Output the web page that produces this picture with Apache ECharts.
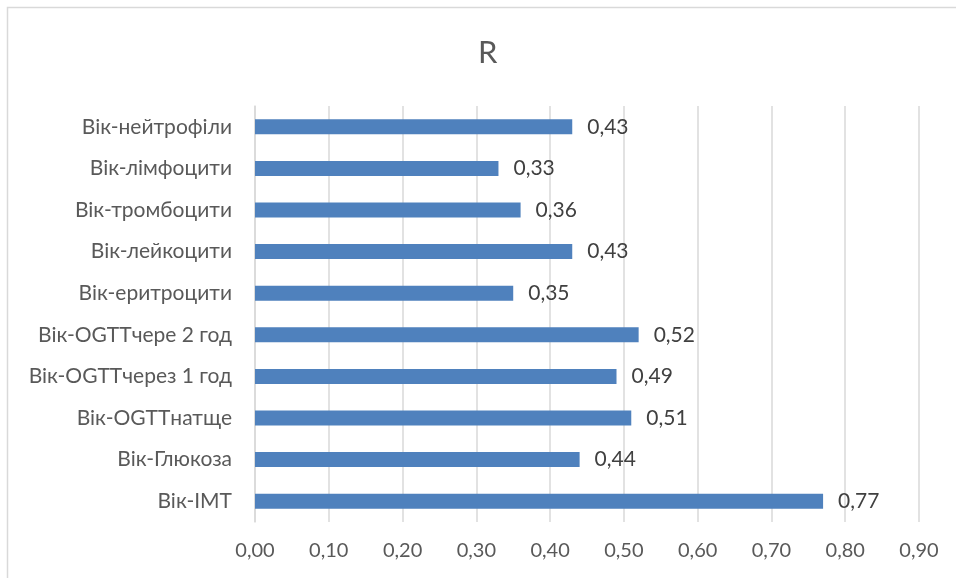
<!DOCTYPE html>
<html>
<head>
<meta charset="utf-8">
<script src="https://cdn.jsdelivr.net/npm/echarts@6/dist/echarts.min.js"></script>
<style>
  html, body { margin: 0; padding: 0; background: #fff; }
  #chart { width: 956px; height: 578px; }
</style>
</head>
<body>
<div id="chart"></div>
<script>
// Correlation pairs, listed top to bottom
const categories = [
  'Вік-нейтрофіли',
  'Вік-лімфоцити',
  'Вік-тромбоцити',
  'Вік-лейкоцити',
  'Вік-еритроцити',
  'Вік-OGTTчере 2 год',
  'Вік-OGTTчерез 1 год',
  'Вік-OGTTнатще',
  'Вік-Глюкоза',
  'Вік-IMT'
];
const rValues = [0.43, 0.33, 0.36, 0.43, 0.35, 0.52, 0.49, 0.51, 0.44, 0.77];
const xTicks = { min: 0, max: 0.9, step: 0.1 };

const fmt = v => v.toFixed(2).replace('.', ',');
const FONT = 'Lato, "Open Sans", sans-serif';

const chart = echarts.init(document.getElementById('chart'), null, { renderer: 'canvas' });
chart.setOption({
  backgroundColor: '#fff',
  animation: false,
  title: {
    text: 'R',
    left: 473,
    top: 32,
    textStyle: { fontFamily: FONT, fontSize: 31, fontWeight: 'normal', color: '#595959' }
  },
  graphic: [{
    type: 'rect',
    shape: { x: 7.5, y: 7.5, width: 1000, height: 1000 },
    style: { fill: 'none', stroke: '#d9d9d9', lineWidth: 1.5 },
    silent: true
  }],
  grid: { left: 255, right: 37, top: 106, bottom: 56, containLabel: false },
  xAxis: {
    type: 'value',
    min: xTicks.min,
    max: xTicks.max,
    interval: xTicks.step,
    axisLine: { show: false },
    axisTick: { show: false },
    splitLine: { show: true, lineStyle: { color: '#d9d9d9', width: 1.5 } },
    axisLabel: {
      margin: 19,
      fontFamily: FONT,
      fontSize: 20,
      color: '#595959',
      formatter: v => fmt(v)
    }
  },
  yAxis: {
    type: 'category',
    data: categories,
    inverse: true,
    axisLine: { show: true, lineStyle: { color: '#d9d9d9', width: 1.5 } },
    axisTick: { show: false },
    axisLabel: {
      margin: 23,
      fontFamily: FONT,
      fontSize: 21,
      color: '#595959'
    }
  },
  series: [{
    type: 'bar',
    data: rValues,
    barWidth: 15,
    itemStyle: { color: '#4f81bd' },
    label: {
      show: true,
      position: 'right',
      distance: 15,
      fontFamily: FONT,
      fontSize: 21,
      color: '#404040',
      formatter: p => fmt(p.value)
    }
  }]
});
</script>
</body>
</html>
